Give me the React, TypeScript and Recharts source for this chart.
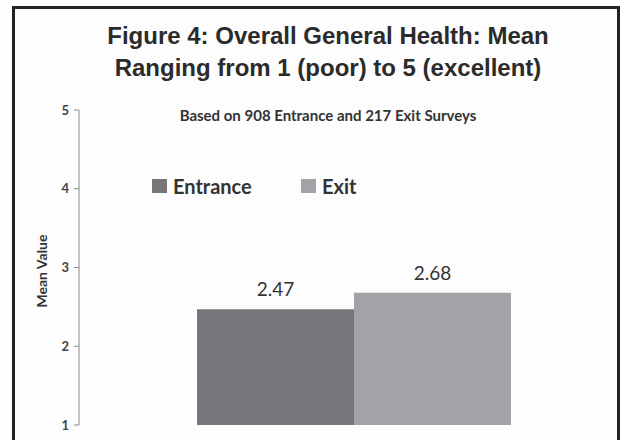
import React from 'react';
import { BarChart, Bar, XAxis, YAxis, Legend, LabelList, Label } from 'recharts';

// survey means on a 1 (poor) .. 5 (excellent) scale
const CATEGORIES = ['Overall General Health'];
const ENTRANCE_MEANS = [2.47];
const EXIT_MEANS = [2.68];
const Y_TICKS = [1, 2, 3, 4, 5];

const SERIES = [
  { key: 'entrance', name: 'Entrance', color: '#77777b' },
  { key: 'exit', name: 'Exit', color: '#a3a3a7' },
];

const data = CATEGORIES.map((name, i) => ({
  name,
  entrance: ENTRANCE_MEANS[i],
  exit: EXIT_MEANS[i],
}));

const CALIBRI = 'Lato, "Open Sans", sans-serif';
const ARIAL = '"Liberation Sans", Arial, sans-serif';

function LegendContent() {
  return (
    <div style={{ display: 'flex', alignItems: 'center', fontFamily: CALIBRI, fontWeight: 700, fontSize: 20, lineHeight: '20px', color: '#333' }}>
      {SERIES.map((s, i) => (
        <div key={s.key} style={{ display: 'flex', alignItems: 'center', width: i === 0 ? 149 : 'auto' }}>
          <span style={{ display: 'inline-block', width: 15, height: 14, background: s.color, marginRight: 6 }} />
          <span>{s.name}</span>
        </div>
      ))}
    </div>
  );
}

export default function App() {
  return (
    <div style={{ position: 'absolute', left: 0, top: 0, width: 621, height: 440, overflow: 'hidden', background: '#fefefe' }}>
      <div
        style={{
          position: 'absolute', left: 12, top: 6, width: 608, height: 460,
          boxSizing: 'border-box', border: '3px solid #232323', background: '#fdfdfd',
        }}
      />
      <div
        style={{
          position: 'absolute', left: 28, top: 20, width: 600, textAlign: 'center',
          fontFamily: ARIAL, fontWeight: 700, fontSize: 24, lineHeight: '32px', color: '#2b2b2b',
        }}
      >
        Figure 4: Overall General Health: Mean
        <br />
        Ranging from 1 (poor) to 5 (excellent)
      </div>
      <div
        style={{
          position: 'absolute', left: 28, top: 106, width: 600, textAlign: 'center',
          fontFamily: CALIBRI, fontWeight: 700, fontSize: 15, lineHeight: '18px', color: '#333',
        }}
      >
        Based on 908 Entrance and 217 Exit Surveys
      </div>
      <div style={{ position: 'absolute', left: 0, top: 0 }}>
        <BarChart width={621} height={440} data={data} margin={{ top: 110, right: 21, bottom: 15, left: 0 }} barGap={0}>
          <XAxis dataKey="name" hide padding={{ left: 29, right: 0 }} />
          <YAxis
            width={79}
            domain={[1, 5]}
            ticks={Y_TICKS}
            interval={0}
            tickSize={5}
            tickMargin={5}
            stroke="#8a8a8a"
            tick={{ fill: '#444', fontSize: 13, fontWeight: 700, fontFamily: CALIBRI }}
          >
            <Label
              content={() => (
                <text
                  x={47}
                  y={271}
                  transform="rotate(-90 47 271)"
                  textAnchor="middle"
                  fill="#333"
                  fontFamily={CALIBRI}
                  fontWeight={700}
                  fontSize={14}
                >
                  Mean Value
                </text>
              )}
            />
          </YAxis>
          {/* horizontal + middle keeps the legend from reserving plot space */}
          <Legend
            layout="horizontal"
            align="center"
            verticalAlign="middle"
            content={<LegendContent />}
            wrapperStyle={{ position: 'absolute', top: 176, left: 152, width: 'auto' }}
          />
          {SERIES.map((s) => (
            <Bar key={s.key} dataKey={s.key} name={s.name} fill={s.color} barSize={157} isAnimationActive={false}>
              <LabelList
                dataKey={s.key}
                position="top"
                offset={13}
                fill="#333"
                fontSize={19}
                fontFamily={CALIBRI}
                formatter={(v: number) => v.toFixed(2)}
              />
            </Bar>
          ))}
        </BarChart>
      </div>
    </div>
  );
}
